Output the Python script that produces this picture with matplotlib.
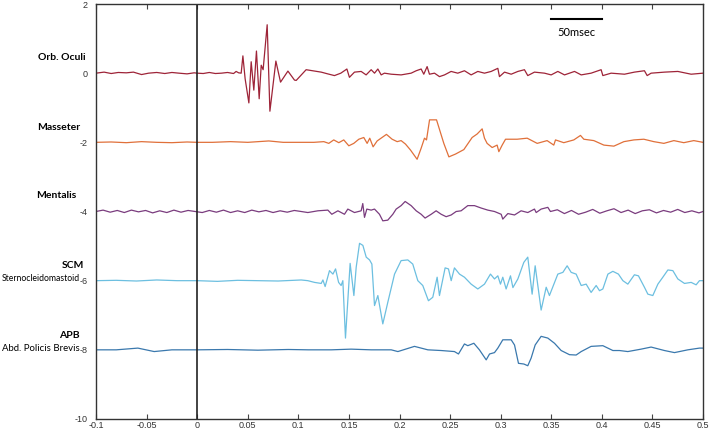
import numpy as np
import matplotlib
matplotlib.use('Agg')
import matplotlib.pyplot as plt

plt.rcParams['font.family'] = ['Lato', 'DejaVu Sans']

# trace names and vertical offsets
names = ['Orb. Oculi', 'Masseter', 'Mentalis', 'SCM', 'APB']
subnames = ['', '', '', 'Sternocleidomastoid', 'Abd. Policis Brevis']
offsets = [0, -2, -4, -6, -8]
colors = ['#9e2438', '#e0703a', '#7a3c7e', '#6cbfe0', '#3a78ad']

orb_t = [-0.1, -0.092, -0.085, -0.078, -0.07, -0.063, -0.055, -0.048, -0.04, -0.032,
         -0.025, -0.018, -0.01, -0.003, 0.0, 0.006, 0.012, 0.018, 0.024, 0.03,
         0.036, 0.0385, 0.041, 0.0435, 0.0452, 0.0474, 0.0511, 0.0534, 0.056, 0.0586,
         0.0613, 0.0633, 0.0652, 0.0692, 0.0719, 0.0778, 0.0824, 0.0897, 0.0962, 0.0979,
         0.1077, 0.1226, 0.129, 0.1357, 0.142, 0.148, 0.1505, 0.1555, 0.1621, 0.167,
         0.172, 0.1753, 0.1786, 0.1819, 0.1851, 0.1918, 0.2016, 0.2115, 0.2165, 0.2214,
         0.224, 0.2273, 0.2296, 0.2346, 0.2395, 0.2445, 0.251, 0.2576, 0.2642, 0.2708,
         0.2774, 0.284, 0.2906, 0.2972, 0.2988, 0.3038, 0.3104, 0.317, 0.3235, 0.3268,
         0.3334, 0.3433, 0.3499, 0.3565, 0.3631, 0.373, 0.3796, 0.3894, 0.3993, 0.401,
         0.4092, 0.4224, 0.4322, 0.4421, 0.4448, 0.4487, 0.4619, 0.4751, 0.4883, 0.5]
orb_v = [0.0, 0.03, -0.01, 0.02, 0.01, 0.03, -0.04, 0.0, 0.02, -0.01,
         0.02, 0.0, -0.02, 0.01, 0.0, -0.01, 0.02, -0.01, 0.0, 0.02,
         -0.01, 0.05, 0.01, 0.0, 0.5, -0.16, -0.86, 0.33, -0.49, 0.64,
         -0.74, 0.23, 0.1, 1.4, -1.1, 0.35, -0.26, 0.06, -0.2, -0.21,
         0.1, 0.03, -0.02, -0.07, 0.0, 0.12, -0.12, 0.03, 0.05, -0.05,
         0.1, 0.0, 0.12, -0.05, 0.0, -0.03, -0.05, 0.0, 0.07, 0.12,
         -0.03, 0.19, -0.03, 0.0, -0.1, -0.05, 0.05, 0.0, 0.07, -0.05,
         0.05, 0.0, 0.05, 0.14, -0.1, 0.03, -0.03, 0.05, 0.1, -0.07,
         0.03, 0.0, -0.05, 0.05, -0.05, 0.05, -0.05, 0.0, 0.1, -0.07,
         0.0, -0.03, 0.03, 0.07, -0.07, 0.0, 0.03, 0.05, -0.03, 0.0]

mas_t = [-0.1, -0.085, -0.07, -0.055, -0.04, -0.025, -0.01, 0.0, 0.015, 0.033,
         0.05, 0.0708, 0.085, 0.0988, 0.1153, 0.1252, 0.1301, 0.135, 0.14, 0.1449,
         0.1499, 0.1548, 0.1598, 0.1647, 0.168, 0.1706, 0.1739, 0.1779, 0.1871, 0.1927,
         0.1977, 0.2016, 0.2059, 0.2108, 0.2174, 0.2214, 0.2247, 0.2267, 0.2297, 0.2366,
         0.2438, 0.2488, 0.2553, 0.2636, 0.2718, 0.2767, 0.2817, 0.284, 0.2866, 0.2916,
         0.2965, 0.2982, 0.3015, 0.3048, 0.3163, 0.3262, 0.3361, 0.3459, 0.3525, 0.3542,
         0.3624, 0.3723, 0.3789, 0.3822, 0.3921, 0.402, 0.4119, 0.4218, 0.4317, 0.4415,
         0.4514, 0.4613, 0.4712, 0.481, 0.4909, 0.5]
mas_v = [0.0, 0.01, -0.01, 0.02, 0.0, -0.01, 0.01, 0.0, 0.0, 0.02,
         0.0, 0.04, 0.0, 0.0, 0.0, 0.02, -0.03, 0.07, -0.01, 0.07,
         -0.1, -0.03, 0.09, 0.14, -0.03, 0.12, -0.13, 0.04, 0.23, 0.09,
         0.02, 0.05, -0.05, -0.22, -0.49, -0.17, 0.12, 0.07, 0.65, 0.65,
         -0.03, -0.42, -0.34, -0.21, 0.14, 0.24, 0.39, 0.12, -0.03, -0.15,
         -0.08, -0.27, -0.08, 0.09, 0.09, 0.12, -0.03, 0.05, -0.08, 0.07,
         -0.01, 0.07, 0.2, 0.09, 0.05, -0.08, -0.11, 0.02, 0.07, 0.09,
         0.02, -0.03, 0.05, -0.01, 0.05, 0.0]

men_t = [-0.1, -0.093, -0.086, -0.079, -0.072, -0.065, -0.058, -0.051, -0.044, -0.037,
         -0.03, -0.023, -0.016, -0.009, -0.002, 0.005, 0.012, 0.019, 0.026, 0.033,
         0.04, 0.047, 0.054, 0.061, 0.068, 0.075, 0.082, 0.089, 0.096, 0.1028,
         0.1094, 0.1193, 0.1292, 0.1331, 0.1391, 0.1456, 0.1489, 0.1555, 0.1621, 0.1637,
         0.1654, 0.1677, 0.172, 0.1753, 0.1802, 0.1835, 0.1884, 0.1934, 0.1967, 0.2016,
         0.2056, 0.2115, 0.2165, 0.2214, 0.2253, 0.2313, 0.2362, 0.2412, 0.2461, 0.2511,
         0.256, 0.2609, 0.2675, 0.2741, 0.2807, 0.2873, 0.2939, 0.3005, 0.3021, 0.3071,
         0.3137, 0.3202, 0.3268, 0.3334, 0.3351, 0.34, 0.3466, 0.3492, 0.356, 0.363,
         0.37, 0.377, 0.384, 0.391, 0.398, 0.405, 0.412, 0.419, 0.426, 0.433,
         0.44, 0.447, 0.454, 0.461, 0.468, 0.475, 0.482, 0.489, 0.496, 0.5]
men_v = [0.0, 0.04, -0.02, 0.03, -0.03, 0.04, -0.01, 0.03, -0.04, 0.02,
         -0.03, 0.04, -0.02, 0.03, 0.0, -0.03, 0.03, -0.02, 0.04, -0.03,
         0.02, -0.03, 0.04, -0.01, 0.03, -0.03, 0.02, -0.02, 0.03, 0.0,
         -0.03, 0.02, 0.04, -0.08, 0.02, -0.08, 0.07, -0.03, 0.02, 0.23,
         -0.17, 0.07, 0.04, 0.07, -0.08, -0.27, -0.25, -0.08, 0.07, 0.17,
         0.29, 0.17, 0.02, -0.08, -0.19, -0.08, 0.02, -0.08, -0.15, -0.1,
         0.0, 0.02, 0.17, 0.17, 0.1, 0.04, 0.0, -0.08, -0.22, -0.06,
         -0.1, 0.02, -0.03, 0.07, -0.03, 0.07, 0.12, 0.0, 0.05, -0.06,
         0.03, -0.08, -0.02, 0.06, -0.05, 0.02, 0.08, -0.03, 0.04, -0.06,
         0.02, 0.05, -0.04, 0.03, -0.02, 0.06, -0.03, 0.02, -0.04, 0.0]

scm_t = [-0.1, -0.08, -0.06, -0.04, -0.02, 0.0, 0.02, 0.04, 0.06, 0.08,
         0.1028, 0.1094, 0.116, 0.1226, 0.1243, 0.1265, 0.1308, 0.1342, 0.1368, 0.1398,
         0.1423, 0.144, 0.1466, 0.1512, 0.1549, 0.1572, 0.1605, 0.1638, 0.1671, 0.1704,
         0.1727, 0.1753, 0.1786, 0.1835, 0.1884, 0.1951, 0.2016, 0.2082, 0.2131, 0.2181,
         0.223, 0.2286, 0.2329, 0.2372, 0.2395, 0.2451, 0.2484, 0.2511, 0.2543, 0.2593,
         0.2642, 0.2708, 0.2774, 0.284, 0.2899, 0.2939, 0.2972, 0.2998, 0.3021, 0.3054,
         0.3097, 0.3121, 0.317, 0.3229, 0.3268, 0.3311, 0.3341, 0.34, 0.345, 0.3482,
         0.3565, 0.3615, 0.3657, 0.3697, 0.3746, 0.3796, 0.3845, 0.3894, 0.3944, 0.3977,
         0.401, 0.406, 0.4109, 0.4164, 0.4208, 0.4257, 0.4322, 0.4362, 0.4421, 0.4455,
         0.4504, 0.4554, 0.4603, 0.4653, 0.4702, 0.4751, 0.4817, 0.4883, 0.4932, 0.4965, 0.5]
scm_v = [0.0, 0.01, -0.01, 0.02, 0.0, 0.0, -0.02, 0.01, 0.0, -0.01,
         0.02, 0.0, -0.05, -0.08, 0.02, -0.17, 0.29, 0.19, 0.34, -0.05,
         -0.14, 0.0, -1.66, 0.5, -0.43, 0.39, 1.08, 1.02, 0.68, 0.6,
         0.48, -0.72, -0.43, -1.25, -0.63, 0.19, 0.58, 0.6, 0.48, 0.0,
         -0.14, -0.58, -0.48, 0.1, -0.43, 0.37, 0.34, 0.0, 0.37, 0.19,
         0.1, -0.1, -0.24, -0.1, 0.19, 0.05, 0.14, -0.1, 0.1, -0.24,
         0.14, -0.2, 0.05, 0.53, 0.68, -0.39, 0.43, -0.85, -0.19, -0.43,
         0.19, 0.24, 0.43, 0.24, 0.19, -0.14, -0.1, -0.34, -0.14, -0.29,
         -0.24, 0.19, 0.27, 0.19, 0.0, -0.1, 0.17, 0.14, -0.19, -0.39,
         -0.43, -0.1, 0.1, 0.31, 0.29, 0.05, -0.08, -0.05, -0.12, 0.0, 0.0]

apb_t = [-0.1, -0.08, -0.0586, -0.0425, -0.025, 0.0, 0.03, 0.06, 0.09, 0.11,
         0.1325, 0.1522, 0.172, 0.1918, 0.1984, 0.2148, 0.228, 0.2412, 0.2543, 0.2583,
         0.2642, 0.2675, 0.2735, 0.279, 0.2857, 0.289, 0.2939, 0.2972, 0.3021, 0.3104,
         0.3137, 0.3176, 0.3229, 0.3268, 0.3301, 0.3341, 0.34, 0.3466, 0.3532, 0.3598,
         0.368, 0.3746, 0.3796, 0.3894, 0.401, 0.4109, 0.4174, 0.4257, 0.4388, 0.4487,
         0.4619, 0.4718, 0.4850, 0.4965, 0.5]
apb_v = [0.0, 0.0, 0.05, -0.05, 0.0, 0.0, 0.01, -0.01, 0.01, 0.0,
         0.0, 0.02, 0.0, 0.0, -0.05, 0.1, 0.0, -0.02, -0.05, -0.12,
         0.17, 0.12, 0.19, 0.0, -0.29, -0.12, -0.08, 0.05, 0.29, 0.29,
         0.14, -0.39, -0.41, -0.46, -0.24, 0.14, 0.39, 0.34, 0.19, -0.02,
         -0.14, -0.15, -0.05, 0.1, 0.12, -0.02, -0.02, -0.05, 0.02, 0.08,
         -0.02, -0.08, 0.0, 0.05, 0.05]

traces = [(orb_t, orb_v), (mas_t, mas_v), (men_t, men_v), (scm_t, scm_v), (apb_t, apb_v)]

x_ticks = [-0.1, -0.05, 0, 0.05, 0.1, 0.15, 0.2, 0.25, 0.3, 0.35, 0.4, 0.45, 0.5]
x_labels = ['-0.1', '-0.05', '0', '0.05', '0.1', '0.15', '0.2', '0.25', '0.3',
            '0.35', '0.4', '0.45', '0.5']
y_ticks = [-10, -8, -6, -4, -2, 0, 2]
y_labels = ['-10', '-8', '-6', '-4', '-2', '0', '2']

scale_bar = [0.35, 0.40]
scale_text = '50msec'

fig = plt.figure(figsize=(7.09, 4.30), dpi=100)
ax = fig.add_axes([96 / 709, 11 / 430, 607 / 709, 415 / 430])

for (t, v), off, col in zip(traces, offsets, colors):
    ax.plot(t, np.array(v) + off, color=col, lw=0.9)

ax.axvline(0, color='#222222', lw=1.2)

ax.plot(scale_bar, [1.57, 1.57], color='black', lw=1.5)
ax.text(np.mean(scale_bar), 1.19, scale_text, ha='center', va='center', fontsize=8)

label_x = [-0.134, -0.1364, -0.139, -0.1226, -0.1265]
label_y = [0.46, -1.57, -3.54, -5.57, -7.59]
for name, lx, ly in zip(names, label_x, label_y):
    ax.text(lx, ly, name, ha='center', va='center', fontsize=7.5,
            fontweight='bold', clip_on=False)

# sub labels end just before the y tick labels
sub_x = [-0.1158, -0.1158]
sub_y = [-5.94, -7.97]
sub_size = [6.2, 6.9]
for name, sx, sy, fs in zip(subnames[3:], sub_x, sub_y, sub_size):
    ax.text(sx, sy, name, ha='right', va='center', fontsize=fs, clip_on=False)

ax.set_xlim(-0.1, 0.5)
ax.set_ylim(-10, 2)
ax.set_xticks(x_ticks)
ax.set_xticklabels(x_labels, family='Liberation Sans')
ax.set_yticks(y_ticks)
ax.set_yticklabels(y_labels, family='Liberation Sans')
ax.tick_params(axis='x', direction='in', length=3.5, top=True, labelsize=6.5,
               labelcolor='#333333', pad=1.5, width=0.8, color='#444444')
ax.tick_params(axis='y', length=0, labelsize=6.5, labelcolor='#333333', pad=6)
for s in ax.spines.values():
    s.set_color('#333333')
    s.set_linewidth(1.0)

fig.savefig('out.png', dpi=100)
